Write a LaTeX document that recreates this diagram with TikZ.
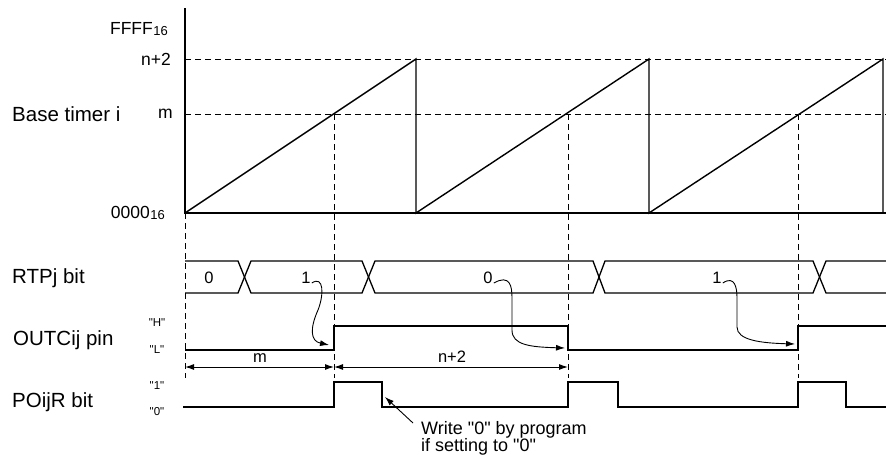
\documentclass[tikz,border=0pt]{standalone}
\usepackage{fontspec}
\setmainfont{Liberation Sans}[Ligatures=TeXOff]
\usetikzlibrary{arrows.meta}
\begin{document}
\begin{tikzpicture}[x=1pt,y=-1pt,
  lbl/.style={font=\fontsize{20.5}{24}\selectfont, anchor=west, inner sep=0},
  val/.style={font=\fontsize{16.5}{19}\selectfont, inner sep=0},
  axv/.style={font=\fontsize{17.5}{19}\selectfont, inner sep=0, anchor=east},
  lvl/.style={font=\fontsize{11.5}{13}\selectfont, inner sep=0},
  sig/.style={line width=1.3pt, line join=miter},
  guide/.style={dash pattern=on 6pt off 4pt, line width=0.8pt},
  ann/.style={-{Latex[length=9pt,width=6pt]}, line width=0.9pt},
  dimarrow/.style={{Latex[length=9pt,width=6pt]}-{Latex[length=9pt,width=6pt]}, line width=1pt},
]
\useasboundingbox (0,0) rectangle (886,455);

% row labels
\node[lbl] (bt) at (12,114) {Base timer i};
\node[lbl] (rtp) at (12,278) {RTPj bit};
\node[lbl] (outc) at (13,340) {OUTCij pin};
\node[lbl] (po) at (12,402) {POijR bit};

% axis values
\node[axv] (ffff) at (168,29) {FFFF\kern0.5pt\raisebox{-1pt}{\fontsize{13}{13}\selectfont 16}};
\node[axv] (n2) at (171,59) {n+2};
\node[axv] (mm) at (173,114) {m};
\node[axv] (zero) at (165,213) {0000\kern0.5pt\raisebox{-1pt}{\fontsize{13}{13}\selectfont 16}};

% level labels
\node[lvl] (lh) at (157,323) {"H"};
\node[lvl] (ll) at (157,350) {"L"};
\node[lvl] (l1) at (157,386) {"1"};
\node[lvl] (l0) at (157,412) {"0"};

% guide lines
\draw[guide] (185,59) -- (886,59);
\draw[guide] (185,114) -- (886,114);
\draw[guide] (185,213) -- (185,378);
\draw[guide] (334,114) -- (334,378);
\draw[guide] (568,114) -- (568,378);
\draw[guide] (798,114) -- (798,378);

% axis
\draw[line width=2pt] (185,8) -- (185,214);
\draw[line width=2pt] (184,213) -- (886,213);

% sawtooth
\draw[line width=1.4pt] (185,213) -- (416,59) -- (416,213) -- (649,59) -- (649,213) -- (883,59) -- (883,213);

% RTPj bus
\draw[sig] (185,261) -- (238,261) -- (251,293) -- (362,293) -- (375,261) -- (593,261) -- (605,293) -- (813,293) -- (826,261) -- (886,261);
\draw[sig] (185,293) -- (238,293) -- (251,261) -- (362,261) -- (375,293) -- (593,293) -- (605,261) -- (813,261) -- (826,293) -- (886,293);
\node[val] (d0) at (209,278) {0};
\node[val] (d1) at (306,278) {1};
\node[val] (d2) at (488,278) {0};
\node[val] (d3) at (717,278) {1};

% OUTCij pin
\draw[sig] (185,350) -- (334,350) -- (334,326) -- (568,326) -- (568,350) -- (798,350) -- (798,326) -- (886,326);

% POijR bit
\draw[sig] (183,407) -- (334,407) -- (334,382) -- (382,382) -- (382,407) -- (568,407) -- (568,382) -- (618,382) -- (618,407) -- (798,407) -- (798,382) -- (846,382) -- (846,407) -- (886,407);

% curved arrows
\draw[ann] ([xshift=1pt,yshift=-5pt]d1.east) .. controls (324,275) and (324,295) .. (318,310) .. controls (310,328) and (310,341) .. (329,345);
\draw[ann] ([xshift=1pt,yshift=-5pt]d2.east) .. controls (510,274) and (512,286) .. (512,298) -- (512,330) .. controls (512,345) and (530,347) .. (565,348);
\draw[ann] ([xshift=1pt,yshift=-5pt]d3.east) .. controls (735,275) and (737,288) .. (737,298) -- (737,327) .. controls (737,340) and (760,343) .. (795,344);

% dimension arrows
\draw[dimarrow] (185,367) -- (334,367);
\draw[dimarrow] (334,367) -- (568,367);
\node[val] (dm) at (260,358) {m};
\node[val] (dn) at (452,357) {n+2};

% annotation
\node[anchor=north west, align=left, font=\fontsize{18}{17}\selectfont, inner sep=0] (note) at (421,421) {Write "0" by program\\if setting to "0"};
\coordinate (nt) at ([xshift=-8pt,yshift=-2pt]note.north west);
\draw[ann] (nt) -- (385,397);
\end{tikzpicture}
\end{document}
